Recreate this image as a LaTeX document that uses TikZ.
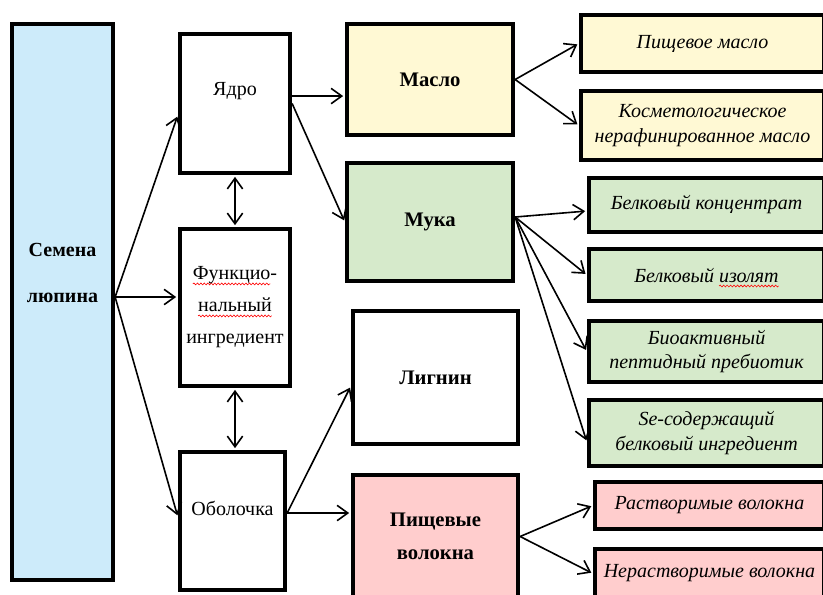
\documentclass[tikz,border=0pt]{standalone}
\usepackage{fontspec}
\setmainfont{Liberation Serif}
\usepackage{tikz}
\usetikzlibrary{arrows.meta, calc, decorations.pathmorphing}
\definecolor{lpBlue}{RGB}{205,235,250}
\definecolor{lpYellow}{RGB}{255,249,212}
\definecolor{lpGreen}{RGB}{214,234,203}
\definecolor{lpPink}{RGB}{255,205,205}
\newlength{\spellwd}
\newcommand{\spellmark}[1]{\settowidth{\spellwd}{#1}%
  \tikz[baseline=0pt, x=1pt, y=1pt, overlay]\draw[red, line width=0.45pt, decorate,
    decoration={snake, amplitude=0.7pt, segment length=2.6pt}] (0pt,-3pt) -- (\spellwd,-3pt);%
  #1}
\tikzset{
  lpbox/.style={draw=black, line width=3.2pt, inner sep=2pt, align=center},
  partbox/.style={lpbox, font=\fontsize{15}{24}\selectfont},
  prodbox/.style={lpbox, font=\bfseries\fontsize{15.5}{25}\selectfont},
  itembox/.style={lpbox, font=\itshape\fontsize{15}{18.5}\selectfont},
  flow/.style={-{Straight Barb[length=8pt,width=11.5pt]}, line width=1.2pt, shorten >=1.3pt},
  twoway/.style={{Straight Barb[length=8pt,width=11.5pt]}-{Straight Barb[length=8pt,width=11.5pt]}, line width=1.2pt, shorten >=1.3pt, shorten <=1.3pt}
}
\begin{document}
\begin{tikzpicture}[x=0.75pt, y=-0.75pt]
    \useasboundingbox (0,0) rectangle (823,594);
    \clip (0,0) rectangle (823,594);
    \node[lpbox, fill=lpBlue, minimum width=75.75pt, minimum height=417pt,
      label={[font=\bfseries\fontsize{15}{35}\selectfont, align=center, yshift=21.75pt]center:Семена\\люпина}] (seeds) at (62.5,302) {};
    \node[partbox, minimum width=82.5pt, minimum height=104.25pt,
      label={[font=\fontsize{15}{24}\selectfont, yshift=9.4pt]center:Ядро}] (kernel) at (235,103.5) {};
    \node[partbox, minimum width=82.5pt, minimum height=117.75pt] (func) at (235,307.5)
      {\spellmark{Функцио}-\\\spellmark{нальный}\\ингредиент};
    \node[partbox, minimum width=78.75pt, minimum height=103.5pt,
      label={[font=\fontsize{15}{24}\selectfont, yshift=9.4pt]center:Оболочка}] (hull) at (232.5,521) {};
    \node[prodbox, fill=lpYellow, minimum width=124.5pt, minimum height=83.25pt] (oil) at (430,79.5) {Масло};
    \node[prodbox, fill=lpGreen, minimum width=124.5pt, minimum height=88.5pt] (flour) at (430,222) {Мука};
    \node[prodbox, minimum width=123.75pt, minimum height=99.75pt] (lignin) at (435.5,377.5) {Лигнин};
    \node[prodbox, fill=lpPink, minimum width=123.75pt, minimum height=92.25pt] (fibre) at (435.5,536.5) {Пищевые\\волокна};
    \node[itembox, fill=lpYellow, minimum width=182.25pt, minimum height=42.75pt] (foodoil) at (702.5,43.5) {Пищевое масло};
    \node[itembox, fill=lpYellow, minimum width=182.25pt, minimum height=51.75pt] (cosmoil) at (702.5,125.5) {Косметологическое\\нерафинированное масло};
    \node[itembox, fill=lpGreen, minimum width=176.25pt, minimum height=40.5pt] (concentrate) at (706.5,205) {Белковый концентрат};
    \node[itembox, fill=lpGreen, minimum width=176.25pt, minimum height=39pt] (isolate) at (706.5,275) {Белковый \spellmark{изолят}};
    \node[itembox, fill=lpGreen, minimum width=176.25pt, minimum height=45.75pt] (peptide) at (706.5,351.5) {Биоактивный\\пептидный пребиотик};
    \node[itembox, fill=lpGreen, minimum width=176.25pt, minimum height=49.5pt] (selenium) at (706.5,433) {Se-содержащий\\белковый ингредиент};
    \node[itembox, fill=lpPink, minimum width=171.75pt, minimum height=35.25pt] (soluble) at (709.5,505.5) {Растворимые волокна};
    \node[itembox, fill=lpPink, minimum width=171.75pt, minimum height=36.75pt] (insoluble) at (709.5,573.5) {Нерастворимые волокна};
    \coordinate (seedsout) at ([yshift=3.75pt]seeds.east);
    \draw[flow] (seedsout) -- ([yshift=-8.6pt]kernel.west);
    \draw[flow] (seedsout) -- (seedsout -| func.west);
    \draw[flow] (seedsout) -- ([yshift=3pt]hull.west);
    \draw[twoway] (kernel) -- (func);
    \draw[twoway] (func.south) -- (func.south |- hull.north);
    \draw[flow] ([yshift=5.6pt]kernel.east) -- ([yshift=5.6pt]kernel.east -| oil.west);
    \draw[flow] (kernel.east) -- (flour.west);
    \draw[flow] (oil.east) -- (foodoil.west);
    \draw[flow] (oil.east) -- (cosmoil.west);
    \coordinate (flourout) at ([yshift=3.75pt]flour.east);
    \draw[flow] (flourout) -- ([yshift=-4.5pt]concentrate.west);
    \draw[flow] (flourout) -- (isolate.west);
    \draw[flow] (flourout) -- (peptide.west);
    \draw[flow] (flourout) -- ([yshift=-6.75pt]selenium.west);
    \coordinate (hullout) at ([yshift=6pt]hull.east);
    \draw[flow] (hullout) -- ([yshift=-6.4pt]lignin.west);
    \draw[flow] (hullout) -- (hullout -| fibre.west);
    \draw[flow] (fibre.east) -- (soluble.west);
    \draw[flow] (fibre.east) -- (insoluble.west);
\end{tikzpicture}
\end{document}
